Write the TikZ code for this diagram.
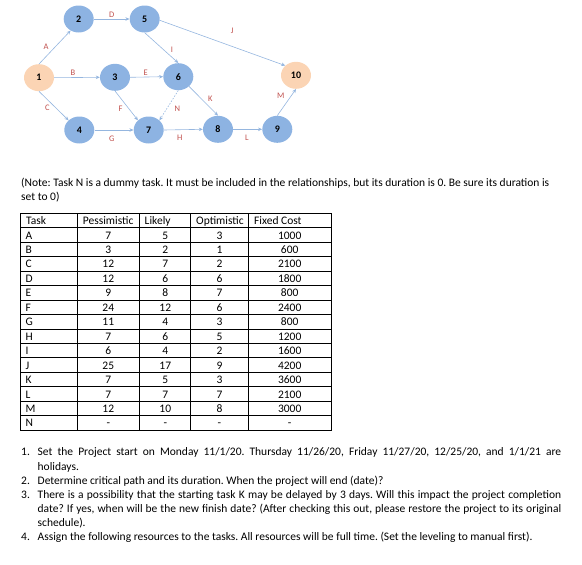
\documentclass[tikz,border=0pt]{standalone}
\usepackage{fontspec}
\setmainfont{Carlito}
\usetikzlibrary{shapes.geometric,arrows.meta}
\definecolor{nodeblue}{HTML}{8DB3E2}
\definecolor{peach}{HTML}{FBD4B4}
\definecolor{edgeblue}{HTML}{95B6DF}
\definecolor{labred}{HTML}{C0504D}
\begin{document}
\frenchspacing
\begin{tikzpicture}[x=1pt,y=-1pt,
  ev/.style={ellipse, fill=nodeblue, minimum width=30pt, minimum height=27pt, inner sep=0pt, font=\fontsize{10}{10}\selectfont\bfseries},
  term/.style={ev, fill=peach},
  conn/.style={draw=edgeblue, line width=0.6pt, -{Stealth[length=4pt,width=3.5pt]}},
  dummyconn/.style={conn, dashed, dash pattern=on 1.5pt off 1.5pt},
  lab/.style={text=labred, font=\fontsize{8.5}{8.5}\selectfont, inner sep=0pt},
  body/.style={font=\fontsize{11.5}{14.1}\selectfont, inner sep=0pt, anchor=base west},
  cellc/.style={font=\fontsize{11.5}{12}\selectfont, inner sep=0pt, anchor=base},
  tabline/.style={line width=0.8pt, black}
]
\useasboundingbox (0,0) rectangle (582,565);

% ---- network ----
\node[term] (n1) at (39,77.7) {1};
\node[ev] (n2) at (78.7,19) {2};
\node[ev] (n5) at (144.7,19) {5};
\node[ev] (n3) at (115,77.3) {3};
\node[ev] (n6) at (178.3,76.7) {6};
\node[ev] (n4) at (79.3,130) {4};
\node[ev] (n7) at (148.7,130) {7};
\node[ev] (n8) at (218,129.3) {8};
\node[ev] (n9) at (277.3,129.3) {9};
\node[term] (n10) at (296,75.3) {10};

\draw[conn] (n1.north) -- (n2.235);
\draw[conn] (n2.east) -- (n5.west);
\draw[conn] (n1.east) -- (n3.west);
\draw[conn] (n3.east) -- (n6.west);
\draw[conn] (n5.south) -- (n6.north);
\draw[conn] (n1.south) -- (n4.north west);
\draw[conn] (n3.south) -- (n7.north west);
\draw[dummyconn] (n6.south) -- (n7.north east);
\draw[conn] (n4.east) -- (n7.west);
\draw[conn] (n7.east) -- (n8.west);
\draw[conn] (n6.south east) -- (n8.north);
\draw[conn] (n8.east) -- (n9.west);
\draw[conn] (n9.north) -- (n10.south);
\draw[conn] (n5.-5) -- (n10.north west);

\node[lab] (lA) at (46,47) {A};
\node[lab] (lD) at (111.7,14.7) {D};
\node[lab] (lB) at (73,72.7) {B};
\node[lab] (lE) at (145.7,72.7) {E};
\node[lab] (lI) at (172,49.3) {I};
\node[lab] (lC) at (47.3,107.7) {C};
\node[lab] (lF) at (120.7,109) {F};
\node[lab] (lN) at (177.3,109) {N};
\node[lab] (lG) at (111.7,138.3) {G};
\node[lab] (lH) at (179.7,137.7) {H};
\node[lab] (lJ) at (232.3,30.7) {J};
\node[lab] (lK) at (210.3,99) {K};
\node[lab] (lM) at (280.7,95.7) {M};
\node[lab] (lL) at (247,138) {L};

% ---- note ----
\node[body] (note1) at (21,186.8) {(Note: Task N is a dummy task. It must be included in the relationships, but its duration is 0. Be sure its duration is};
\node[body] (note2) at (21,200.9) {set to 0)};

% ---- table ----
\draw[tabline] (20.7,213.3) rectangle (331,430);
\foreach \cx in {77.3,139.3,190.7,248.3} \draw[tabline] (\cx,213.3) -- (\cx,430);
\foreach \k in {1,...,14} \draw[tabline] (20.7,213.3+14.45*\k) -- (331,213.3+14.45*\k);

\node[body] (hT) at (26,224.6) {Task};
\node[body] (hP) at (82.7,224.6) {Pessimistic};
\node[body] (hL) at (144.5,224.6) {Likely};
\node[body] (hO) at (196,224.6) {Optimistic};
\node[body] (hC) at (254,224.6) {Fixed Cost};

\foreach \t/\p/\l/\o/\c [count=\i] in {A/7/5/3/1000, B/3/2/1/600, C/12/7/2/2100, D/12/6/6/1800, E/9/8/7/800, F/24/12/6/2400, G/11/4/3/800, H/7/6/5/1200, I/6/4/2/1600, J/25/17/9/4200, K/7/5/3/3600, L/7/7/7/2100, M/12/10/8/3000, N/-/-/-/-}{
  \node[body] (t\i) at (25.5,224.6+14.45*\i) {\t};
  \node[cellc] (p\i) at (108.3,224.6+14.45*\i) {\p};
  \node[cellc] (l\i) at (165.3,224.6+14.45*\i) {\l};
  \node[cellc] (o\i) at (219.5,224.6+14.45*\i) {\o};
  \node[cellc] (c\i) at (289.7,224.6+14.45*\i) {\c};
}

% ---- list ----
\node[body] (k1) at (21,455.9) {1.};
\node[body] (q1a) at (37.5,455.9) {\makebox[523.5pt][s]{Set the Project start on Monday 11/1/20. Thursday 11/26/20, Friday 11/27/20, 12/25/20, and 1/1/21 are}};
\node[body] (q1b) at (37.5,470) {holidays.};
\node[body] (k2) at (21,484.1) {2.};
\node[body] (q2) at (37.5,484.1) {Determine critical path and its duration. When the project will end (date)?};
\node[body] (k3) at (21,498.2) {3.};
\node[body] (q3a) at (37.5,498.2) {\makebox[523.5pt][s]{There is a possibility that the starting task K may be delayed by 3 days. Will this impact the project completion}};
\node[body] (q3b) at (37.5,512.3) {\makebox[523.5pt][s]{date? If yes, when will be the new finish date? (After checking this out, please restore the project to its original}};
\node[body] (q3c) at (37.5,526.4) {schedule).};
\node[body] (k4) at (21,540.5) {4.};
\node[body] (q4) at (37.5,540.5) {Assign the following resources to the tasks. All resources will be full time. (Set the leveling to manual first).};
\end{tikzpicture}
\end{document}
